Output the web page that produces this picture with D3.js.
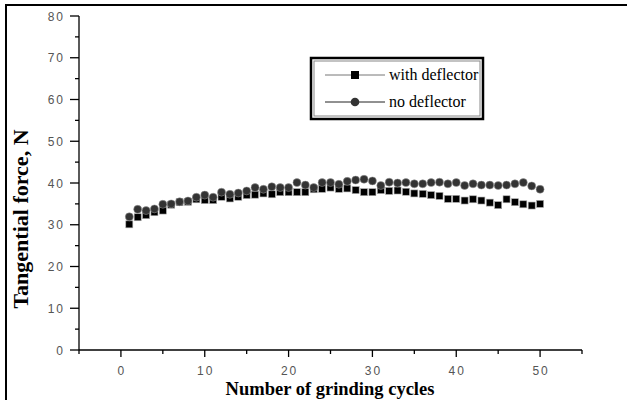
<!DOCTYPE html>
<html>
<head>
<meta charset="utf-8">
<script src="https://cdn.jsdelivr.net/npm/d3@7"></script>
<style>
  body { margin: 0; background: #fff; }
  svg { display: block; }
</style>
</head>
<body>
<script>
// size of the page
var w = 627;
var h = 400;

// data
var cycles = d3.range(1, 51);
var withDeflector = [
	30.1, 31.8, 32.3, 33.0, 33.4, 34.8, 35.4, 35.5, 36.1, 35.9,
	35.9, 36.7, 36.3, 36.7, 37.1, 37.2, 37.5, 37.3, 37.8, 37.8,
	37.8, 37.8, 38.5, 38.6, 38.9, 38.6, 38.7, 38.3, 37.8, 37.8,
	38.3, 38.1, 38.2, 37.9, 37.5, 37.4, 37.1, 36.9, 36.2, 36.2,
	35.8, 36.1, 35.8, 35.3, 34.7, 36.1, 35.4, 34.9, 34.6, 35.0
];
var noDeflector = [
	31.9, 33.7, 33.4, 33.8, 34.9, 35.0, 35.5, 35.7, 36.6, 37.1,
	36.6, 37.8, 37.3, 37.6, 38.1, 38.9, 38.5, 39.1, 38.9, 38.9,
	40.1, 39.5, 38.9, 40.1, 40.1, 39.7, 40.4, 40.7, 40.9, 40.5,
	39.4, 40.2, 40.0, 40.1, 39.8, 39.8, 40.1, 40.2, 39.8, 40.1,
	39.4, 39.8, 39.5, 39.5, 39.4, 39.5, 39.8, 40.1, 39.3, 38.5
];
var xTicks = [0, 10, 20, 30, 40, 50];
var xMinor = [-5, 5, 15, 25, 35, 45, 55];
var yTicks = [0, 10, 20, 30, 40, 50, 60, 70, 80];
var yMinor = [5, 15, 25, 35, 45, 55, 65, 75];
var seriesNames = ["with deflector", "no deflector"];

var serif = "'Liberation Serif', 'Times New Roman', serif";
var sans = "'Liberation Sans', Arial, sans-serif";

var svg = d3.select("body")
	.append("svg")
	.attr("width", w)
	.attr("height", h);

// outer frame (runs off the right and bottom of the picture)
svg.append("rect")
	.attr("x", 6)
	.attr("y", 5)
	.attr("width", 700)
	.attr("height", 500)
	.attr("fill", "none")
	.attr("stroke", "#000")
	.attr("stroke-width", 2);

var x = d3.scaleLinear().domain([-5, 55]).range([79, 582]);
var y = d3.scaleLinear().domain([0, 80]).range([350, 16]);

// x axis
var xAxis = svg.append("g").attr("transform", "translate(0,350)");
xAxis.append("line")
	.attr("x1", x(-5)).attr("x2", x(55))
	.attr("stroke", "#000").attr("stroke-width", 1.3);
xAxis.selectAll("line.major").data(xTicks).enter()
	.append("line")
	.attr("class", "major")
	.attr("x1", function(d) { return x(d); })
	.attr("x2", function(d) { return x(d); })
	.attr("y1", 0).attr("y2", 7)
	.attr("stroke", "#000").attr("stroke-width", 1.3);
xAxis.selectAll("line.minor").data(xMinor).enter()
	.append("line")
	.attr("class", "minor")
	.attr("x1", function(d) { return x(d); })
	.attr("x2", function(d) { return x(d); })
	.attr("y1", 0).attr("y2", 4)
	.attr("stroke", "#000").attr("stroke-width", 1.3);
xAxis.selectAll("text").data(xTicks).enter()
	.append("text")
	.attr("x", function(d) { return x(d) + 1; })
	.attr("y", 25)
	.attr("text-anchor", "middle")
	.attr("font-family", sans)
	.attr("font-size", "12px")
	.attr("letter-spacing", "2px")
	.attr("fill", "#555")
	.text(function(d) { return d; });

// y axis
var yAxis = svg.append("g").attr("transform", "translate(" + x(-5) + ",0)");
yAxis.append("line")
	.attr("y1", y(0)).attr("y2", y(80))
	.attr("stroke", "#000").attr("stroke-width", 1.3);
yAxis.selectAll("line.major").data(yTicks).enter()
	.append("line")
	.attr("class", "major")
	.attr("y1", function(d) { return y(d); })
	.attr("y2", function(d) { return y(d); })
	.attr("x1", -9).attr("x2", 0)
	.attr("stroke", "#000").attr("stroke-width", 1.3);
yAxis.selectAll("line.minor").data(yMinor).enter()
	.append("line")
	.attr("class", "minor")
	.attr("y1", function(d) { return y(d); })
	.attr("y2", function(d) { return y(d); })
	.attr("x1", -4).attr("x2", 0)
	.attr("stroke", "#000").attr("stroke-width", 1.3);
yAxis.selectAll("text").data(yTicks).enter()
	.append("text")
	.attr("x", -14)
	.attr("y", function(d) { return y(d) + 4.5; })
	.attr("text-anchor", "end")
	.attr("font-family", sans)
	.attr("font-size", "12px")
	.attr("letter-spacing", "2px")
	.attr("fill", "#555")
	.text(function(d) { return d; });

// axis titles
svg.append("text")
	.attr("x", 330)
	.attr("y", 395)
	.attr("text-anchor", "middle")
	.attr("font-family", serif)
	.attr("font-weight", "bold")
	.attr("font-size", "18.5px")
	.text("Number of grinding cycles");

svg.append("text")
	.attr("transform", "translate(28,219) rotate(-90)")
	.attr("text-anchor", "middle")
	.attr("font-family", serif)
	.attr("font-weight", "bold")
	.attr("font-size", "22px")
	.text("Tangential force, N");

// squares: with deflector
svg.selectAll("rect.sq").data(withDeflector).enter()
	.append("rect")
	.attr("class", "sq")
	.attr("x", function(d, i) { return x(cycles[i]) - 3.5; })
	.attr("y", function(d) { return y(d) - 3.5; })
	.attr("width", 7)
	.attr("height", 7)
	.attr("fill", "#000")
	.attr("stroke", "#aaa")
	.attr("stroke-width", 0.6);

// circles: no deflector
svg.selectAll("circle.ci").data(noDeflector).enter()
	.append("circle")
	.attr("class", "ci")
	.attr("cx", function(d, i) { return x(cycles[i]); })
	.attr("cy", function(d) { return y(d); })
	.attr("r", 4)
	.attr("fill", "#333")
	.attr("stroke", "#999")
	.attr("stroke-width", 0.5);

// legend
var legend = svg.append("g");
legend.append("rect")
	.attr("x", 311).attr("y", 58)
	.attr("width", 172).attr("height", 61)
	.attr("fill", "#fff")
	.attr("stroke", "#000")
	.attr("stroke-width", 2.5);
legend.append("rect")
	.attr("x", 314).attr("y", 61)
	.attr("width", 166).attr("height", 55)
	.attr("fill", "none")
	.attr("stroke", "#888")
	.attr("stroke-width", 1);

var rows = legend.selectAll("g.row").data(seriesNames).enter()
	.append("g")
	.attr("class", "row")
	.attr("transform", function(d, i) { return "translate(0," + (75 + i * 27) + ")"; });
rows.append("line")
	.attr("x1", 325).attr("x2", 385)
	.attr("stroke", function(d, i) { return i == 0 ? "#777" : "#222"; })
	.attr("stroke-width", 1);
rows.filter(function(d, i) { return i == 0; })
	.append("rect")
	.attr("x", 351).attr("y", -4)
	.attr("width", 8).attr("height", 8)
	.attr("fill", "#000");
rows.filter(function(d, i) { return i == 1; })
	.append("circle")
	.attr("cx", 355).attr("cy", 0)
	.attr("r", 4.3)
	.attr("fill", "#333");
rows.append("text")
	.attr("x", 389)
	.attr("y", 5)
	.attr("font-family", serif)
	.attr("font-size", "16px")
	.attr("fill", "#000")
	.text(function(d) { return d; });
</script>
</body>
</html>
